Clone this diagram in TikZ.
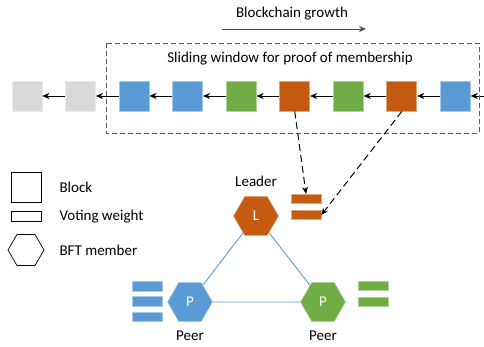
\documentclass[tikz,border=0pt]{standalone}
\usepackage{fontspec}
\setmainfont{Carlito}
\usepackage{xcolor}
\usetikzlibrary{positioning,arrows.meta,shapes.geometric}

\definecolor{bblue}{HTML}{5B9BD5}
\definecolor{bgreen}{HTML}{70AD47}
\definecolor{borange}{HTML}{C55A11}
\definecolor{bgray}{HTML}{D9D9D9}

\begin{document}
\begin{tikzpicture}[x=1pt,y=-1pt,>={Stealth[length=7pt,width=6pt]},node distance=22.75pt,
  font=\fontsize{15}{17}\selectfont]
\tikzstyle{block}=[rectangle, minimum size=30pt, inner sep=0pt, fill=#1, draw=#1!55!white, line width=0.8pt]
\tikzstyle{bar}=[rectangle, minimum width=30pt, minimum height=9.5pt, inner sep=0pt, fill=#1, draw=#1!55!white, line width=0.6pt]
\tikzstyle{member}=[regular polygon, regular polygon sides=6, minimum size=45pt, inner sep=0pt, fill=#1, draw=#1!55!white, line width=0.6pt, text=white]
\tikzstyle{link}=[bblue, line width=0.9pt]
\tikzstyle{vote}=[->, dash pattern=on 7pt off 4pt, line width=1pt]
\useasboundingbox (0,0) rectangle (484,347);

% chain of blocks
\node[block=bgray] (b1) at (27,96) {};
\node[block=bgray] (b2) [right=of b1] {};
\node[block=bblue] (b3) [right=of b2] {};
\node[block=bblue] (b4) [right=of b3] {};
\node[block=bgreen] (b5) [right=of b4] {};
\node[block=borange] (b6) [right=of b5] {};
\node[block=bgreen] (b7) [right=of b6] {};
\node[block=borange] (b8) [right=of b7] {};
\node[block=bblue] (b9) [right=of b8] {};
\coordinate (bin) at (484,96);

\draw[->] (b2) -- (b1);
\draw[->] (b3) -- (b2);
\draw[->] (b4) -- (b3);
\draw[->] (b5) -- (b4);
\draw[->] (b6) -- (b5);
\draw[->] (b7) -- (b6);
\draw[->] (b8) -- (b7);
\draw[->] (b9) -- (b8);
\draw[->] (bin) -- (b9);

% growth direction
\node (growth) at (292,14) {Blockchain growth};
\coordinate (g1) at (222,29);
\coordinate (g2) at (366,29);
\draw[->, black!70, line width=0.8pt] (g1) -- (g2);

% sliding window
\draw[dash pattern=on 5pt off 3pt, black!65, line width=0.9pt] (106,43) rectangle (479,133);
\node (window) at (290,59) {Sliding window for proof of membership};

% legend
\node[rectangle, draw, line width=0.7pt, minimum size=30pt] (lblock) at (26,187) {};
\node[anchor=west] (tblock) at (56,187) {Block};
\node[rectangle, draw, line width=0.7pt, minimum width=30pt, minimum height=10pt, inner sep=0pt] (lbar) at (26,216.5) {};
\node[anchor=west] (tbar) at (56,216.5) {Voting weight};
\node[regular polygon, regular polygon sides=6, draw, line width=0.7pt, minimum size=36pt, inner sep=0pt] (lhex) at (26,250) {};
\node[anchor=west] (thex) at (56,250) {BFT member};

% BFT members
\node[member=borange] (L) at (256,216) {L};
\node[member=bblue] (P1) at (190,302) {P};
\node[member=bgreen] (P2) at (323,302) {P};
\node[above=6pt of L] (leader) {Leader};
\node[below=6pt of P1] (peer1) {Peer};
\node[below=6pt of P2] (peer2) {Peer};

\draw[link] (L) -- (P1);
\draw[link] (L) -- (P2);
\draw[link] (P1) -- (P2);

% voting weights
\node[bar=borange] (w1) at (306,199) {};
\node[bar=borange] (w2) at (306,215) {};
\node[bar=bblue] (v1) at (147,286.5) {};
\node[bar=bblue] (v2) at (147,301.5) {};
\node[bar=bblue] (v3) at (147,317) {};
\node[bar=bgreen] (u1) at (373,286) {};
\node[bar=bgreen] (u2) at (373,302) {};

\draw[vote] (b6.south) -- (w1.north);
\draw[vote] (b8.south) -- (w2.east);
\end{tikzpicture}
\end{document}
